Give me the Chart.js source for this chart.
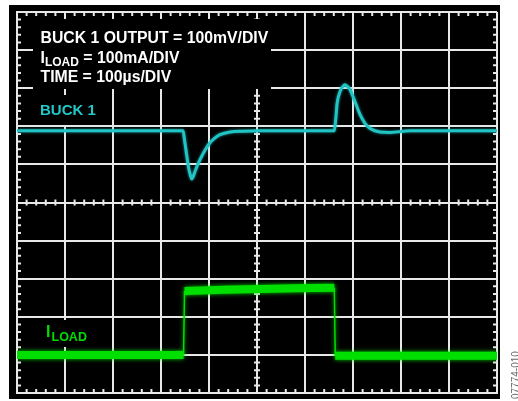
<!DOCTYPE html>
<html>
<head>
<meta charset="utf-8">
<script src="https://cdn.jsdelivr.net/npm/chart.js@4.4.1/dist/chart.umd.min.js"></script>
<style>
  html, body { margin: 0; padding: 0; background: #fff; }
  canvas { display: block; }
</style>
</head>
<body>
<canvas id="scope" width="518" height="401"></canvas>
<script>
// time in us (100us/div, 10 divs)
const buckTime = [0, 200, 346, 349, 352, 356, 359, 362, 364, 367, 371, 376, 381, 392, 402, 412, 423, 444, 470, 506, 600, 661,
  664, 667, 673, 678, 683, 688, 694, 699, 704, 715, 725, 735, 756, 777, 819, 900, 1000];
// buck 1 output deviation, mV (100mV/div)
const buckMv = [0, 0, 0, -24, -50, -85, -106, -120, -126, -120, -106, -90, -76, -50, -31, -19, -10, -3, -1, 0, 0, 0,
  30, 73, 103, 115, 121, 117, 108, 93, 77, 42, 20, 7, -3, -4, 0, 0, 0];
// load current, mA (100mA/div)
const loadTime = [0, 150, 347, 349, 352, 430, 506, 580, 661, 663, 800, 1000];
const loadMa = [100, 100, 100, 268, 268, 271, 273, 275, 276, 98, 98, 98];

const gridColor = "#e8e8e8";
const glows = ["rgba(40,210,210,0.7)", "rgba(0,235,0,0.9)"];

const scopeDecor = {
  id: "scopeDecor",
  beforeDraw(chart) {
    const c = chart.ctx;
    c.save();
    c.fillStyle = "#fff";
    c.fillRect(0, 0, chart.width, chart.height);
    c.fillStyle = "#000";
    c.fillRect(9, 5, 491, 394);
    c.restore();
  },
  beforeDatasetsDraw(chart) {
    const c = chart.ctx;
    const xs = chart.scales.x;
    const ys = chart.scales.yI;
    const { left, right, top, bottom } = chart.chartArea;
    const cx = xs.getPixelForValue(500);
    const cy = ys.getPixelForValue(500);
    c.save();
    c.strokeStyle = gridColor;
    c.lineWidth = 2;
    c.beginPath();
    for (let v = 20; v < 1000; v += 20) {
      if (v % 100 === 0) continue;
      const px = xs.getPixelForValue(v);
      const py = ys.getPixelForValue(v);
      c.moveTo(px, top); c.lineTo(px, top + 4);
      c.moveTo(px, bottom); c.lineTo(px, bottom - 4);
      c.moveTo(px, cy - 3); c.lineTo(px, cy + 3);
      c.moveTo(left, py); c.lineTo(left + 4, py);
      c.moveTo(right, py); c.lineTo(right - 4, py);
      c.moveTo(cx - 3, py); c.lineTo(cx + 3, py);
    }
    c.stroke();

    // label boxes
    c.fillStyle = "#000";
    c.fillRect(33, 19, 238, 70);
    c.fillRect(30, 95, 75, 30);
    c.fillRect(40, 320, 60, 27);

    const big = 'bold 15.8px "Liberation Sans", Arial, sans-serif';
    const sub = 'bold 12px "Liberation Sans", Arial, sans-serif';
    c.fillStyle = "#fff";
    c.textBaseline = "alphabetic";
    c.font = big;
    c.fillText("BUCK 1 OUTPUT = 100mV/DIV", 40.5, 43);
    c.fillText("I", 40.5, 63);
    let w = c.measureText("I").width;
    c.font = sub;
    c.fillText("LOAD", 40.5 + w, 66);
    w += c.measureText("LOAD").width;
    c.font = big;
    c.fillText(" = 100mA/DIV", 40.5 + w, 63);
    c.fillText("TIME = 100\u00b5s/DIV", 40.5, 81.5);

    c.fillStyle = "#22c8c8";
    c.font = 'bold 15px "Liberation Sans", Arial, sans-serif';
    c.fillText("BUCK 1", 40, 115);

    c.fillStyle = "#00dd00";
    c.font = 'bold 16px "Liberation Sans", Arial, sans-serif';
    c.fillText("I", 46, 336.5);
    c.font = 'bold 12.5px "Liberation Sans", Arial, sans-serif';
    c.fillText("LOAD", 51.5, 340.5);
    c.restore();
  },
  beforeDatasetDraw(chart, args) {
    const c = chart.ctx;
    c.save();
    c.shadowColor = glows[args.index];
    c.shadowBlur = args.index === 0 ? 3 : 4;
  },
  afterDatasetDraw(chart) {
    chart.ctx.restore();
  },
  afterDraw(chart) {
    const c = chart.ctx;
    c.save();
    c.translate(518.5, 399);
    c.rotate(-Math.PI / 2);
    c.fillStyle = "#666";
    c.font = '10px "Liberation Sans", Arial, sans-serif';
    c.textAlign = "left";
    c.fillText("07774-010", 0, 0);
    c.restore();
  },
};

const steep = (ctx, thin, thick) =>
  Math.abs(ctx.p1.parsed.y - ctx.p0.parsed.y) > 50 ? thin : thick;

new Chart(document.getElementById("scope"), {
  type: "line",
  data: {
    datasets: [
      {
        label: "BUCK 1",
        yAxisID: "yV",
        data: buckTime.map((t, i) => ({ x: t, y: buckMv[i] })),
        borderColor: "#20c4c4",
        borderWidth: 3,
        pointRadius: 0,
        cubicInterpolationMode: "monotone",
      },
      {
        label: "ILOAD",
        yAxisID: "yI",
        data: loadTime.map((t, i) => ({ x: t, y: loadMa[i] })),
        borderColor: "#00e000",
        borderWidth: 8,
        pointRadius: 0,
        tension: 0,
        segment: { borderWidth: (ctx) => steep(ctx, 1.5, 8) },
      },
    ],
  },
  options: {
    responsive: false,
    animation: false,
    layout: { padding: { left: 17, top: 12, right: 21, bottom: 8 } },
    plugins: { legend: { display: false }, tooltip: { enabled: false } },
    scales: {
      x: {
        type: "linear",
        min: 0,
        max: 1000,
        ticks: { display: false, stepSize: 100 },
        grid: { color: gridColor, lineWidth: 2, drawTicks: false },
        border: { color: gridColor, width: 2 },
      },
      yI: {
        position: "left",
        min: 0,
        max: 1000,
        ticks: { display: false, stepSize: 100 },
        grid: { color: gridColor, lineWidth: 2, drawTicks: false },
        border: { color: gridColor, width: 2 },
      },
      yV: { display: false, min: -688, max: 312 },
    },
  },
  plugins: [scopeDecor],
});
</script>
</body>
</html>
